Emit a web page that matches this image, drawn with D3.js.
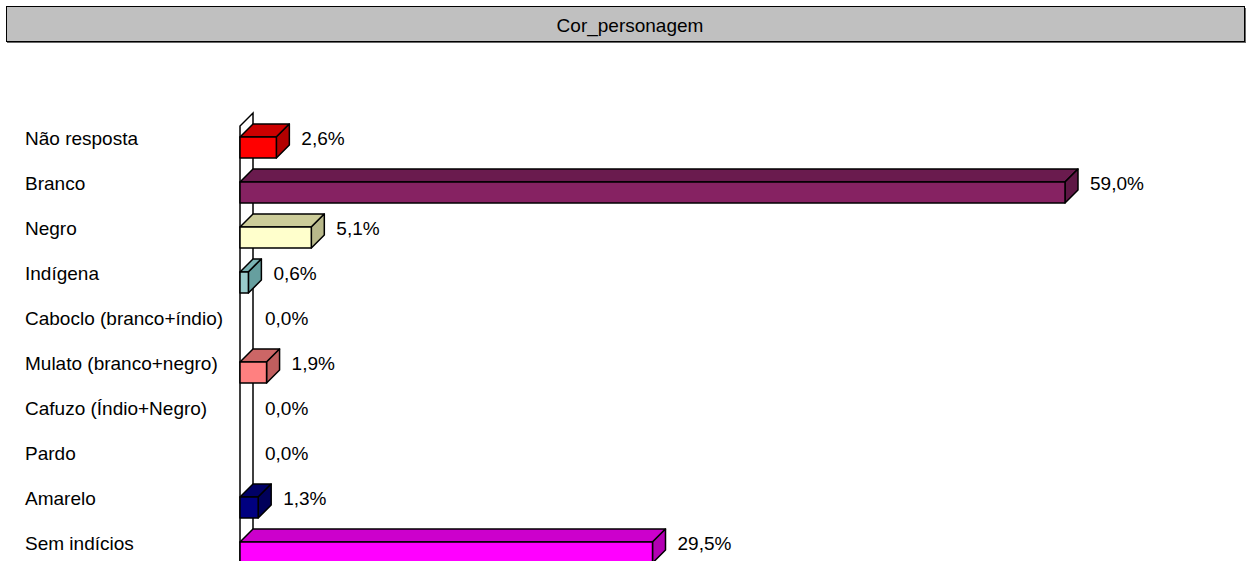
<!DOCTYPE html>
<html>
<head>
<meta charset="utf-8">
<script src="https://cdn.jsdelivr.net/npm/d3@7"></script>
<style>
  body { margin: 0; background: #fff; }
  text { font-family: "Liberation Sans", Arial, sans-serif; fill: #000; }
</style>
</head>
<body>
<svg width="1249" height="561"></svg>
<script>
'use strict'

var title = "Cor_personagem";

var categories = ["Não resposta", "Branco", "Negro", "Indígena", "Caboclo (branco+índio)",
  "Mulato (branco+negro)", "Cafuzo (Índio+Negro)", "Pardo", "Amarelo", "Sem indícios"];

var values = [2.6, 59.0, 5.1, 0.6, 0.0, 1.9, 0.0, 0.0, 1.3, 29.5];

// front, top, side
var colours = [
  ["#ff0000", "#cc0000", "#b30000"],
  ["#862262", "#6a1b4e", "#5e1745"],
  ["#ffffcc", "#cccc99", "#b8b88a"],
  ["#99cccc", "#7ab3b3", "#669f9f"],
  ["#cccccc", "#aaaaaa", "#999999"],
  ["#ff8080", "#cc6666", "#c05e5e"],
  ["#cccccc", "#aaaaaa", "#999999"],
  ["#cccccc", "#aaaaaa", "#999999"],
  ["#000080", "#000066", "#00005a"],
  ["#ff00ff", "#cc00cc", "#b300b3"]
];

var svg = d3.select("svg");
var depth = 13, barH = 21;

var x = d3.scaleLinear().domain([0, 59]).range([240, 1065]);
var y = d3.scalePoint().domain(categories).range([138, 543]);

var fmt = function(v) { return v.toFixed(1).replace(".", ",") + "%"; };

// title box
svg.append("rect")
  .attr("x", 7).attr("y", 8).attr("width", 1239).attr("height", 35)
  .attr("fill", "#666");
svg.append("rect")
  .attr("x", 6.5).attr("y", 6.5).attr("width", 1238).attr("height", 35)
  .attr("fill", "#c0c0c0").attr("stroke", "#000").attr("stroke-width", 1);
svg.append("text")
  .attr("x", 630).attr("y", 25).attr("dy", "0.35em")
  .attr("text-anchor", "middle").style("font-size", "19px")
  .text(title);

// wall
var x0 = x(0);
var wallTop = y(categories[0]) - 12;
svg.append("path")
  .attr("d", "M" + (x0 + depth) + ",561 V" + (wallTop - depth) + " L" + x0 + "," + wallTop + " V561")
  .attr("fill", "#fff").attr("stroke", "#000").attr("stroke-width", 1.5);

// category labels
svg.selectAll(".cat")
  .data(categories)
  .enter()
  .append("text")
  .attr("class", "cat")
  .attr("x", 25)
  .attr("y", function(d) { return y(d); })
  .attr("dy", "0.35em")
  .style("font-size", "19px")
  .text(function(d) { return d; });

var rows = categories.map(function(c, i) { return { cat: c, v: values[i], col: colours[i] }; });

var bars = svg.selectAll(".bar")
  .data(rows.filter(function(d) { return d.v > 0; }))
  .enter()
  .append("g")
  .attr("class", "bar")
  .attr("stroke", "#000")
  .attr("stroke-width", 1.5)
  .attr("stroke-linejoin", "round");

bars.append("path")
  .attr("fill", function(d) { return d.col[1]; })
  .attr("d", function(d) {
    var t = y(d.cat) - 1, x1 = x(d.v);
    return "M" + x0 + "," + t + " L" + x1 + "," + t + " L" + (x1 + depth) + "," + (t - depth) +
      " L" + (x0 + depth) + "," + (t - depth) + "Z";
  });

bars.append("path")
  .attr("fill", function(d) { return d.col[2]; })
  .attr("d", function(d) {
    var t = y(d.cat) - 1, x1 = x(d.v);
    return "M" + x1 + "," + t + " L" + (x1 + depth) + "," + (t - depth) + " L" + (x1 + depth) + "," + (t - depth + barH) +
      " L" + x1 + "," + (t + barH) + "Z";
  });

bars.append("rect")
  .attr("fill", function(d) { return d.col[0]; })
  .attr("x", x0)
  .attr("y", function(d) { return y(d.cat) - 1; })
  .attr("width", function(d) { return x(d.v) - x0; })
  .attr("height", barH);

// value labels
svg.selectAll(".val")
  .data(rows)
  .enter()
  .append("text")
  .attr("class", "val")
  .attr("x", function(d) { return x(d.v) + depth + 12; })
  .attr("y", function(d) { return y(d.cat); })
  .attr("dy", "0.35em")
  .style("font-size", "19px")
  .text(function(d) { return fmt(d.v); });
</script>
</body>
</html>
